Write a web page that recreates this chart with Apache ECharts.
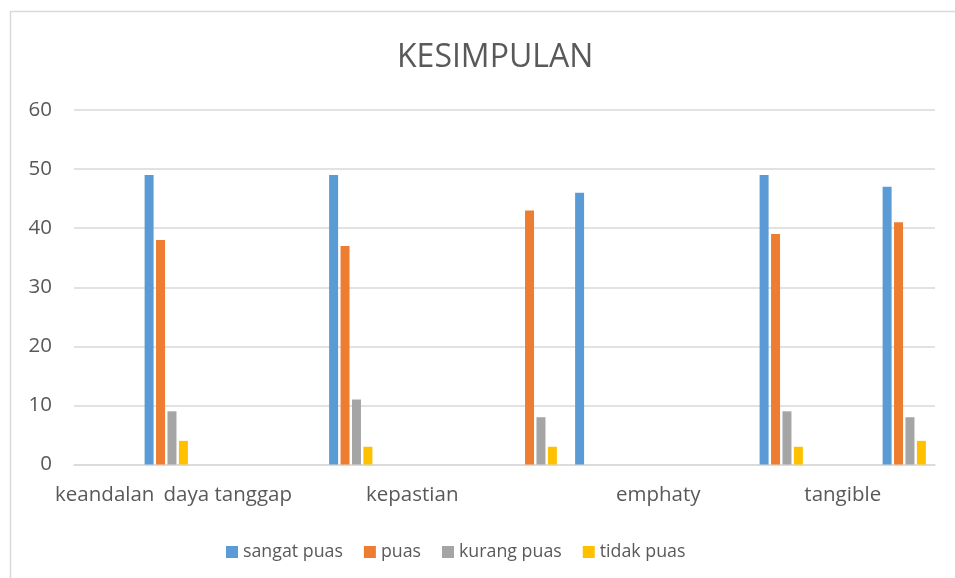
<!DOCTYPE html>
<html>
<head>
<meta charset="utf-8">
<script src="https://cdn.jsdelivr.net/npm/echarts@6/dist/echarts.min.js"></script>
<style>html,body{margin:0;padding:0;background:#fff}#c{width:955px;height:578px}</style>
</head>
<body>
<div id="c"></div>
<script>
const categories = ["keandalan", "", "daya tanggap", "", "", "kepastian", "", "", "", "emphaty", "", "", "tangible", ""];
const sangatPuas = [null, 49, null, null, 49, null, null, null, 46, null, null, 49, null, 47];
const puas       = [null, 38, null, null, 37, null, null, 43, null, null, null, 39, null, 41];
const kurangPuas = [null, 9,  null, null, 11, null, null, 8,  null, null, null, 9,  null, 8];
const tidakPuas  = [null, 4,  null, null, 3,  null, null, 3,  null, null, null, 3,  null, 4];
const seriesNames = ["sangat puas", "puas", "kurang puas", "tidak puas"];
const colors = ["#5B9BD5", "#ED7D31", "#A5A5A5", "#FFC000"];
const yTicks = [0, 10, 20, 30, 40, 50, 60];

const FONT = "'Open Sans', sans-serif";
const chart = echarts.init(document.getElementById('c'), null, {renderer: 'canvas'});
const dataSets = [sangatPuas, puas, kurangPuas, tidakPuas];
chart.setOption({
  animation: false,
  color: colors,
  graphic: [{
    type: 'rect', shape: {x: 10.5, y: 11.5, width: 1200, height: 1200},
    style: {fill: 'none', stroke: '#d9d9d9', lineWidth: 1.5}, silent: true
  }],
  title: {
    text: 'KESIMPULAN', left: 392, top: 37,
    textStyle: {fontFamily: FONT, fontSize: 32, fontWeight: 'normal', color: '#595959'}
  },
  legend: {
    top: 538, left: 221, itemWidth: 12, itemHeight: 12, itemGap: 21,
    icon: 'rect',
    textStyle: {fontFamily: FONT, fontSize: 17.8, color: '#595959'},
    data: seriesNames
  },
  grid: {left: 74, right: 20, top: 110, bottom: 113.5, containLabel: false},
  xAxis: {
    type: 'category', data: categories,
    axisLine: {lineStyle: {color: '#d9d9d9', width: 1.5}},
    axisTick: {show: false},
    axisLabel: {interval: 0, margin: 20, fontFamily: FONT, fontSize: 20.5, color: '#595959'}
  },
  yAxis: {
    type: 'value', min: yTicks[0], max: yTicks[yTicks.length - 1], interval: 10,
    axisLine: {show: false}, axisTick: {show: false},
    splitLine: {lineStyle: {color: '#d9d9d9', width: 1.5}},
    axisLabel: {margin: 22, fontFamily: FONT, fontSize: 20.5, color: '#595959'}
  },
  series: dataSets.map((d, i) => ({
    name: seriesNames[i], type: 'bar', data: d,
    barWidth: 9, barGap: '27%'
  }))
});
</script>
</body>
</html>
